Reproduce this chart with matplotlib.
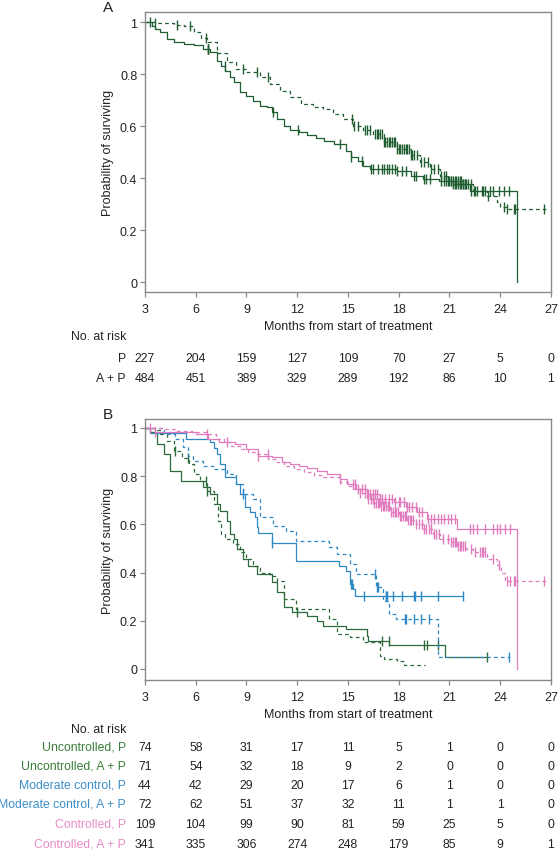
import numpy as np
import matplotlib
matplotlib.use('Agg')
import matplotlib.pyplot as plt
from matplotlib import transforms

plt.rcParams['font.family'] = ['Liberation Sans', 'DejaVu Sans']
plt.rcParams['font.size'] = 9

# ---- panel A: P vs A+P (all patients) ----
a_p_t = [3.0, 3.4, 3.6, 3.9, 4.3, 4.7, 5.3, 5.9, 6.45, 6.85, 7.25, 7.5, 7.75, 8.0, 8.25, 8.6, 9.0, 9.4,
         9.8, 10.2, 10.5, 10.8, 11.2, 11.6, 12.1, 12.6, 13.1, 13.6, 14.2, 14.9, 15.2, 15.6, 15.9, 16.3,
         17.9, 18.7, 19.45, 20.4, 21.2, 22.2, 25.0]
a_p_s = [1.0, 0.985, 0.975, 0.96, 0.935, 0.922, 0.915, 0.91, 0.896, 0.883, 0.85, 0.832, 0.813, 0.79,
         0.768, 0.73, 0.717, 0.697, 0.678, 0.672, 0.653, 0.627, 0.601, 0.585, 0.576, 0.565, 0.553, 0.543,
         0.531, 0.505, 0.48, 0.467, 0.447, 0.435, 0.428, 0.409, 0.396, 0.39, 0.377, 0.351, 0.0]
a_p_cens = [3.3, 6.7, 6.72, 6.74, 7.73, 10.55, 12.05, 14.5, 15.2, 15.8, 16.35, 16.5, 16.8, 17.0, 17.1,
            17.3, 17.45, 17.6, 17.75, 17.9, 18.17, 18.4, 18.9, 19.0, 19.5, 19.6, 19.85, 20.5, 20.65,
            20.8, 20.9, 21.0, 21.1, 21.2, 21.3, 21.4, 21.5, 21.6, 21.7, 21.8, 21.9, 22.3, 22.45, 22.6,
            22.9, 23.1, 23.4, 23.6, 23.9, 24.2, 24.5]

a_ap_t = [3.0, 3.6, 4.7, 5.3, 5.9, 6.3, 6.65, 7.25, 7.85, 8.4, 9.0, 9.8, 10.4, 11.0, 11.6, 12.2, 12.95,
          13.55, 14.1, 14.7, 15.3, 15.9, 16.5, 17.1, 17.9, 18.7, 19.25, 19.85, 20.45, 21.0, 21.8, 22.4,
          23.2, 23.8, 24.0, 24.4, 26.7]
a_ap_s = [1.0, 0.995, 0.99, 0.984, 0.96, 0.94, 0.922, 0.88, 0.845, 0.82, 0.807, 0.788, 0.762, 0.736,
          0.71, 0.685, 0.672, 0.665, 0.646, 0.627, 0.60, 0.585, 0.57, 0.537, 0.51, 0.49, 0.46, 0.435,
          0.409, 0.39, 0.377, 0.351, 0.332, 0.306, 0.287, 0.28, 0.28]
a_ap_cens = [3.6, 4.87, 5.66, 6.6, 8.81, 9.64, 10.3, 15.25, 15.35, 15.6, 16.0, 16.1, 16.3, 16.6, 16.7,
             16.8, 16.9, 17.0, 17.1, 17.2, 17.3, 17.4, 17.5, 17.6, 17.7, 17.8, 17.9, 18.0, 18.1, 18.2,
             18.3, 18.4, 18.5, 18.6, 18.7, 18.8, 18.9, 19.1, 19.3, 19.5, 19.7, 19.9, 20.1, 20.3, 20.5,
             20.7, 20.8, 21.1, 21.2, 21.3, 21.4, 21.5, 21.6, 21.7, 21.8, 21.9, 22.0, 22.1, 22.3, 22.5,
             23.0, 23.3, 24.2, 24.4, 24.8, 24.9, 26.6]

a_risk_labels = ['P', 'A + P']
a_risk = [[227, 204, 159, 127, 109, 70, 27, 5, 0],
          [484, 451, 389, 329, 289, 192, 86, 10, 1]]

# ---- panel B: by PSA control group ----
b_up_t = [3.0, 3.3, 3.7, 4.1, 4.5, 5.1, 6.45, 6.85, 7.25, 7.45, 7.85, 8.05, 8.25, 8.45, 8.8, 9.1, 9.6,
          10.5, 10.8, 11.2, 11.7, 12.55, 13.15, 13.55, 14.9, 16.1, 16.2, 17.45, 20.75, 23.2]
b_up_s = [1.0, 0.982, 0.934, 0.892, 0.823, 0.781, 0.754, 0.726, 0.685, 0.657, 0.615, 0.56, 0.54, 0.498,
          0.456, 0.429, 0.394, 0.36, 0.318, 0.256, 0.235, 0.221, 0.2, 0.18, 0.164, 0.138, 0.118, 0.1,
          0.051, 0.051]
b_up_cens = [12.0, 17.0, 17.4, 19.5, 19.65, 20.3, 23.2]

b_uap_t = [3.0, 3.6, 3.9, 4.3, 4.7, 5.2, 5.6, 5.9, 6.25, 6.65, 7.05, 7.3, 7.5, 7.7, 8.2, 8.6, 9.0, 9.4,
           9.8, 10.4, 10.8, 11.2, 11.95, 13.9, 14.35, 15.1, 15.9, 16.9, 17.1, 17.9, 18.3, 19.55]
b_uap_s = [1.0, 0.99, 0.975, 0.947, 0.906, 0.875, 0.85, 0.81, 0.78, 0.74, 0.685, 0.615, 0.56, 0.54,
           0.52, 0.484, 0.456, 0.429, 0.40, 0.387, 0.366, 0.29, 0.249, 0.207, 0.145, 0.131, 0.11, 0.055,
           0.041, 0.034, 0.017, 0.017]
b_uap_cens = [4.77, 5.56, 6.62, 6.68]

b_mp_t = [3.0, 3.3, 5.45, 6.85, 7.1, 7.25, 7.45, 7.75, 8.4, 8.6, 8.9, 9.2, 9.5, 9.6, 9.7, 10.5, 11.95,
          14.45, 14.9, 15.1, 15.3, 15.42, 21.8]
b_mp_s = [1.0, 0.978, 0.954, 0.94, 0.915, 0.892, 0.85, 0.795, 0.767, 0.726, 0.671, 0.65, 0.629, 0.59,
          0.565, 0.523, 0.45, 0.429, 0.408, 0.353, 0.33, 0.302, 0.302]
b_mp_cens = [10.5, 15.2, 15.25, 15.95, 17.22, 17.27, 17.32, 17.67, 18.17, 18.88, 18.95, 19.3, 20.3, 21.8]

b_map_t = [3.0, 4.1, 4.8, 5.25, 5.55, 5.85, 6.45, 7.05, 7.85, 8.4, 8.8, 9.4, 9.8, 10.55, 11.35, 11.95,
           13.9, 14.35, 15.1, 15.5, 16.65, 17.05, 17.45, 17.85, 20.3, 24.5]
b_map_s = [1.0, 0.975, 0.954, 0.92, 0.885, 0.864, 0.843, 0.83, 0.81, 0.768, 0.726, 0.705, 0.63, 0.595,
           0.574, 0.532, 0.505, 0.477, 0.436, 0.394, 0.339, 0.284, 0.228, 0.207, 0.05, 0.05]
b_map_cens = [8.8, 16.62, 16.7, 16.78, 18.38, 18.43, 18.9, 19.3, 19.8, 24.5]

b_cp_t = [3.0, 3.6, 6.0, 6.7, 7.4, 8.3, 9.0, 9.7, 10.5, 11.1, 11.6, 12.1, 12.6, 13.15, 13.75, 14.5,
          14.95, 15.5, 16.1, 16.9, 17.7, 18.45, 19.05, 19.65, 21.45, 25.0]
b_cp_s = [1.0, 0.985, 0.975, 0.954, 0.94, 0.934, 0.913, 0.885, 0.878, 0.857, 0.85, 0.843, 0.835, 0.823,
          0.809, 0.788, 0.768, 0.747, 0.726, 0.705, 0.692, 0.671, 0.65, 0.622, 0.581, 0.0]
b_cp_cens = [3.3, 3.6, 6.65, 7.86, 9.7, 14.5, 15.3, 15.4, 15.6, 15.8, 16.0, 16.2, 16.3, 16.5, 16.6,
             16.7, 16.9, 17.0, 17.2, 17.4, 17.6, 17.8, 18.0, 18.1, 18.3, 18.5, 18.6, 18.8, 19.0, 19.2,
             19.4, 19.7, 19.9, 20.1, 20.3, 20.5, 20.7, 20.9, 21.1, 21.3, 22.2, 22.4, 22.6, 23.1, 23.6,
             23.8, 24.0, 24.3, 24.6]

b_cap_t = [3.0, 4.0, 4.9, 5.8, 6.65, 7.2, 7.65, 8.1, 8.6, 9.1, 9.6, 10.3, 10.7, 11.2, 11.8, 12.4, 13.0,
           13.55, 14.5, 15.0, 15.3, 15.7, 16.1, 16.5, 16.9, 17.5, 18.0, 18.5, 19.0, 19.45, 20.0, 20.45,
           21.0, 21.45, 22.0, 22.4, 23.2, 23.8, 24.05, 24.3, 26.7]
b_cap_s = [1.0, 0.995, 0.989, 0.982, 0.975, 0.955, 0.94, 0.925, 0.913, 0.90, 0.892, 0.871, 0.86, 0.843,
           0.83, 0.816, 0.805, 0.795, 0.775, 0.76, 0.745, 0.73, 0.705, 0.69, 0.678, 0.65, 0.636, 0.62,
           0.60, 0.581, 0.56, 0.539, 0.526, 0.512, 0.498, 0.484, 0.456, 0.43, 0.40, 0.366, 0.366]
b_cap_cens = [10.29, 15.7, 16.0, 16.2, 16.35, 16.45, 16.55, 16.65, 16.75, 16.85, 16.95, 17.05, 17.15,
              17.25, 17.35, 17.45, 17.55, 17.65, 17.75, 17.85, 17.95, 18.05, 18.15, 18.25, 18.35, 18.45,
              18.55, 18.65, 18.75, 18.85, 19.0, 19.2, 19.4, 19.5, 19.6, 19.8, 19.9, 20.1, 20.2, 20.4,
              20.6, 20.9, 21.1, 21.2, 21.3, 21.4, 21.5, 21.6, 21.7, 21.8, 21.9, 22.3, 22.5, 22.8, 22.9,
              23.0, 23.1, 23.6, 23.9, 24.4, 24.6, 24.8, 24.9, 26.6]

b_risk_labels = ['Uncontrolled, P', 'Uncontrolled, A + P', 'Moderate control, P',
                 'Moderate control, A + P', 'Controlled, P', 'Controlled, A + P']
b_risk = [[74, 58, 31, 17, 11, 5, 1, 0, 0],
          [71, 54, 32, 18, 9, 2, 0, 0, 0],
          [44, 42, 29, 20, 17, 6, 1, 0, 0],
          [72, 62, 51, 37, 32, 11, 1, 1, 0],
          [109, 104, 99, 90, 81, 59, 25, 5, 0],
          [341, 335, 306, 274, 248, 179, 85, 9, 1]]

months = [3, 6, 9, 12, 15, 18, 21, 24, 27]

green_a = '#1f5e30'
green = '#2e6b3b'
blue = '#2f88c6'
pink = '#e07bbd'
dash = (0, (3.0, 2.5))
W, H = 558, 853


def km(ax, t, s, cens, color, ls):
    t = np.array(t)
    s = np.array(s)
    ax.step(t, s, where='post', color=color, lw=0.9, linestyle=ls)
    idx = np.searchsorted(t, cens, side='right') - 1
    ax.plot(cens, s[idx], linestyle='none', marker='|', ms=7, mew=1.0, color=color)


def style_axes(ax, ylim):
    ax.set_xlim(3, 27)
    ax.set_ylim(*ylim)
    ax.set_xticks(months)
    ax.set_yticks([0, 0.2, 0.4, 0.6, 0.8, 1])
    ax.set_yticklabels(['0', '0.2', '0.4', '0.6', '0.8', '1'])
    for sp in ax.spines.values():
        sp.set_color('#8a8a8a')
        sp.set_linewidth(1)
    ax.tick_params(direction='out', length=3.5, width=0.9, color='#8a8a8a', labelcolor='#222222',
                   labelsize=9, pad=2)
    ax.tick_params(axis='x', pad=4.5)
    ax.set_xlabel('Months from start of treatment', color='#222222', fontsize=9, labelpad=3.5)
    ax.set_ylabel('Probability of surviving', color='#222222', fontsize=9, labelpad=4)


def risk_table(fig, ax, header_y, rows_y, labels, counts, colors):
    tr = transforms.blended_transform_factory(ax.transData, fig.transFigure)
    fig.text(126 / W, 1 - header_y / H, 'No. at risk', ha='right', va='center', color='#222222',
             fontsize=8.8)
    for y, lab, row, c in zip(rows_y, labels, counts, colors):
        fig.text(126 / W, 1 - y / H, lab, ha='right', va='center', color=c, fontsize=8.8)
        for m, n in zip(months, row):
            ax.text(m, 1 - y / H, str(n), transform=tr, ha='center', va='center', color='#222222',
                    fontsize=8.8)


fig = plt.figure(figsize=(W / 100, H / 100), dpi=100)

axA = fig.add_axes([145 / W, 1 - 293 / H, 406 / W, 280 / H])
km(axA, a_p_t, a_p_s, a_p_cens, green_a, '-')
km(axA, a_ap_t, a_ap_s, a_ap_cens, green_a, dash)
style_axes(axA, (-10 / 260, 1 + 10 / 260))
fig.text(108 / W, 1 - 8 / H, 'A', fontsize=11, ha='center', va='center', color='#222222')
risk_table(fig, axA, 337, [359, 379], a_risk_labels, a_risk, ['#222222', '#222222'])

axB = fig.add_axes([145 / W, 1 - 681 / H, 406 / W, 261 / H])
km(axB, b_up_t, b_up_s, b_up_cens, green, '-')
km(axB, b_uap_t, b_uap_s, b_uap_cens, green, dash)
km(axB, b_mp_t, b_mp_s, b_mp_cens, blue, '-')
km(axB, b_map_t, b_map_s, b_map_cens, blue, dash)
km(axB, b_cp_t, b_cp_s, b_cp_cens, pink, '-')
km(axB, b_cap_t, b_cap_s, b_cap_cens, pink, dash)
style_axes(axB, (-11 / 241, 1 + 9 / 241))
fig.text(108 / W, 1 - 415 / H, 'B', fontsize=11, ha='center', va='center', color='#222222')
row_colors = ['#3a7d3a', '#3a7d3a', '#3b8fc8', '#3b8fc8', '#e68cc6', '#e68cc6']
risk_table(fig, axB, 730, [748, 767, 786, 805, 825, 845], b_risk_labels, b_risk, row_colors)

fig.savefig('out.png', dpi=100)
